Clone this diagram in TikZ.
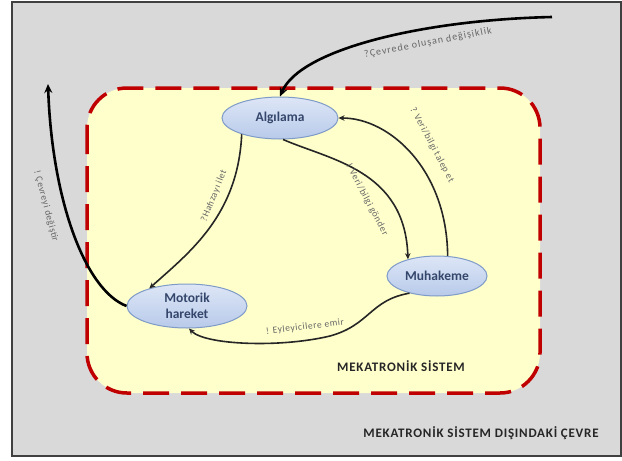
\documentclass[tikz,border=0pt]{standalone}
\usepackage{fontspec}
\setmainfont{Carlito}
\usetikzlibrary{shapes.geometric,arrows.meta}
\definecolor{bggray}{HTML}{D9D9D9}
\definecolor{frame}{HTML}{404040}
\definecolor{sysyellow}{HTML}{FFFFCC}
\definecolor{sysred}{HTML}{C00000}
\definecolor{elltop}{HTML}{DDE6F6}
\definecolor{ellbot}{HTML}{B8CAEA}
\definecolor{elledge}{HTML}{7F9BC8}
\definecolor{elltext}{HTML}{34466B}
\tikzset{
  sysbox/.style={draw=sysred, fill=sysyellow, line width=3.5pt, dash pattern=on 26pt off 12pt, rounded corners=40pt},
  ell/.style={ellipse, draw=elledge, line width=1pt, top color=elltop, bottom color=ellbot, inner sep=0pt, text=elltext, font=\fontsize{13.5}{16}\selectfont\bfseries},
  inarrow/.style={draw=black!85, line width=1.6pt, -{Stealth[length=6pt,width=5.5pt]}},
  extarrow/.style={draw=black, line width=2.6pt, -{Stealth[length=9pt,width=8pt]}},
  lbl/.style={text=black!60, font=\fontsize{9.5}{11}\selectfont\addfontfeature{LetterSpace=6}, inner sep=1pt},
  widelbl/.style={text=black!60, font=\fontsize{10}{11}\selectfont\addfontfeature{LetterSpace=10}, inner sep=1pt},
  title/.style={text=black!85, font=\fontsize{13}{15}\selectfont\bfseries\addfontfeature{LetterSpace=6}}
}
\begin{document}
\begin{tikzpicture}[x=1pt,y=-1pt]
\useasboundingbox (0,0) rectangle (622,461);
\fill[white] (0,0) rectangle (622,461);
\draw[line width=2pt, draw=frame, fill=bggray] (12,1.5) rectangle (620.5,456);
\draw[sysbox] (87,88) rectangle (540,393);

\node[ell, minimum width=116pt, minimum height=42pt] (alg) at (280,118) {Algılama};
\node[ell, minimum width=100pt, minimum height=40pt] (muh) at (437,276) {Muhakeme};
\node[ell, minimum width=120pt, minimum height=44pt, align=center] (mot) at (187,306) {Motorik\\hareket};

\coordinate (ctop) at (552,17);
\coordinate (cleft) at (48,84);

\draw[extarrow] (ctop) .. controls (420,20) and (300,50) .. (alg.north);
\node[widelbl, rotate=11] (l1) at (428,43) {?Çevrede oluşan değişiklik};

\draw[extarrow] (mot.west) .. controls (85,290) and (52,200) .. (cleft);
\node[lbl, rotate=-75] (l2) at (46,206) {! Çevreyi değiştir};

\draw[inarrow] (alg.203) .. controls (238,215) and (190,252) .. (mot.155);
\node[lbl, rotate=68] (l3) at (214,196) {?Hafızayı ilet};

\draw[inarrow] (alg.278) .. controls (330,160) and (405,170) .. (muh.150);
\node[lbl, rotate=-62] (l4) at (367,200) {! Veri/bilgi gönder};

\draw[inarrow] (muh.62) .. controls (447,170) and (390,118) .. (alg.east);
\node[lbl, rotate=-62] (l5) at (432,145) {? Veri/bilgi talep et};

\draw[inarrow] (muh.212) .. controls (370,300) and (370,325) .. (330,336) .. controls (280,348) and (205,345) .. (mot.275);
\node[lbl, rotate=7] (l6) at (305,327) {! Eyleyicilere emir};

\node[title] (sys) at (401,366) {MEKATRONİK SİSTEM};
\node[title] (env) at (481,433) {MEKATRONİK SİSTEM DIŞINDAKİ ÇEVRE};
\end{tikzpicture}
\end{document}
